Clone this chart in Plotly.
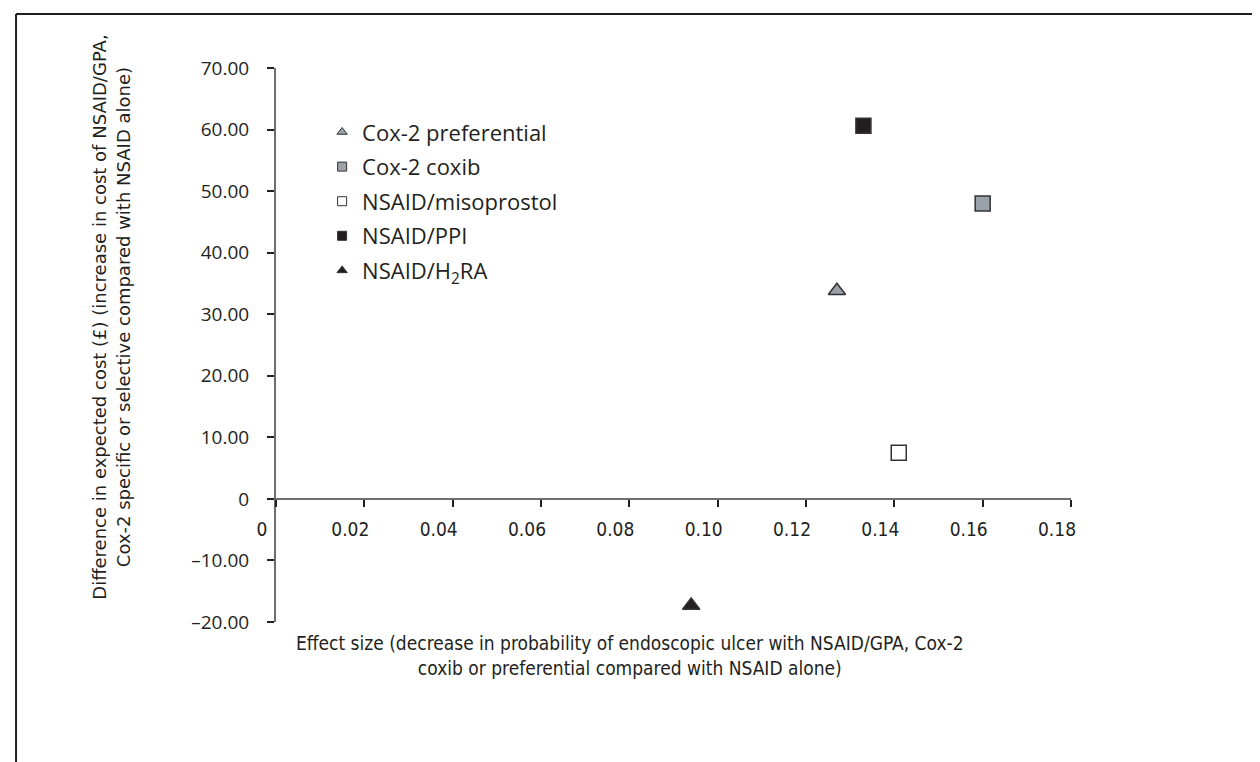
import plotly.graph_objects as go

# data
names = ['Cox-2 preferential', 'Cox-2 coxib', 'NSAID/misoprostol', 'NSAID/PPI', 'NSAID/H<sub>2</sub>RA']
effect = [0.127, 0.160, 0.141, 0.133, 0.094]
cost = [33.8, 48.0, 7.5, 60.6, -17.3]
symbols = ['triangle-up', 'square', 'square', 'square', 'triangle-up']
fills = ['#9ba1a8', '#9ba1a8', '#ffffff', '#231f20', '#231f20']
sizes = [15, 15, 15, 15, 15]

x_ticks = [0, 0.02, 0.04, 0.06, 0.08, 0.10, 0.12, 0.14, 0.16, 0.18]
x_ticktext = ['0', '0.02', '0.04', '0.06', '0.08', '0.10', '0.12', '0.14', '0.16', '0.18']
y_ticks = [-20, -10, 0, 10, 20, 30, 40, 50, 60, 70]
y_ticktext = ['\u201320.00', '\u201310.00', '0', '10.00', '20.00', '30.00', '40.00', '50.00', '60.00', '70.00']

fig = go.Figure()

# points on the chart
for i in range(len(names)):
    fig.add_trace(go.Scatter(
        x=[effect[i]], y=[cost[i]], mode='markers', showlegend=False,
        marker=dict(symbol=symbols[i], size=sizes[i], color=fills[i],
                    line=dict(color='#333333', width=1.5)),
        name=names[i]))

# small legend symbols
for i in range(len(names)):
    fig.add_trace(go.Scatter(
        x=[None], y=[None], mode='markers', name=names[i], legendgroup=str(i),
        marker=dict(symbol=symbols[i], size=9, color=fills[i],
                    line=dict(color='#333333', width=1))))

fig.update_layout(
    width=1260, height=762,
    margin=dict(l=268, r=197, t=60, b=148),
    paper_bgcolor='white', plot_bgcolor='white',
    font=dict(family='Open Sans, Lato, sans-serif', color='#231f20'),
    showlegend=True,
    legend=dict(x=0.058, y=0.922, xanchor='left', yanchor='top',
                font=dict(size=22, family='Open Sans, sans-serif'),
                tracegroupgap=3, bgcolor='rgba(0,0,0,0)'),
    xaxis=dict(range=[0, 0.18], anchor='free', position=2/9,
               tickvals=x_ticks, ticktext=x_ticktext,
               showgrid=False, zeroline=False,
               showline=True, linecolor='#6d6d6d', linewidth=2,
               ticks='outside', ticklen=7, tickcolor='#231f20', tickwidth=1.5,
               ticklabelstandoff=6, ticklabelshift=-14,
               tickfont=dict(size=19, family='DejaVu Sans Condensed, sans-serif')),
    yaxis=dict(range=[-20, 70],
               tickvals=y_ticks, ticktext=y_ticktext,
               showgrid=False, zeroline=False,
               showline=True, linecolor='#6d6d6d', linewidth=2,
               ticks='outside', ticklen=7, tickcolor='#231f20', tickwidth=1.5,
               ticklabelstandoff=14,
               tickfont=dict(size=19, family='Open Sans, sans-serif')),
)

# axis titles
fig.add_annotation(
    text='Difference in expected cost (\u00a3) (increase in cost of NSAID/GPA,<br>'
         'Cox-2 specific or selective compared with NSAID alone)',
    xref='paper', yref='paper', x=-0.207, y=0.55, textangle=-90,
    showarrow=False, xanchor='center', yanchor='middle',
    font=dict(size=18, family='DejaVu Sans, sans-serif', color='#231f20'))
fig.add_annotation(
    text='Effect size (decrease in probability of endoscopic ulcer with NSAID/GPA, Cox-2<br>'
         'coxib or preferential compared with NSAID alone)',
    xref='paper', yref='paper', x=0.4455, y=-0.061,
    showarrow=False, xanchor='center', yanchor='middle',
    font=dict(size=19, family='DejaVu Sans Condensed, sans-serif', color='#231f20'))

# frame around the figure (top and left edges visible)
fig.add_shape(type='line', xref='paper', yref='paper',
              x0=-0.327, x1=1.25, y0=1.0974, y1=1.0974,
              line=dict(color='#231f20', width=2))
fig.add_shape(type='line', xref='paper', yref='paper',
              x0=-0.327, x1=-0.327, y0=1.0974, y1=-0.27,
              line=dict(color='#231f20', width=2))

fig.write_html('out.html')
